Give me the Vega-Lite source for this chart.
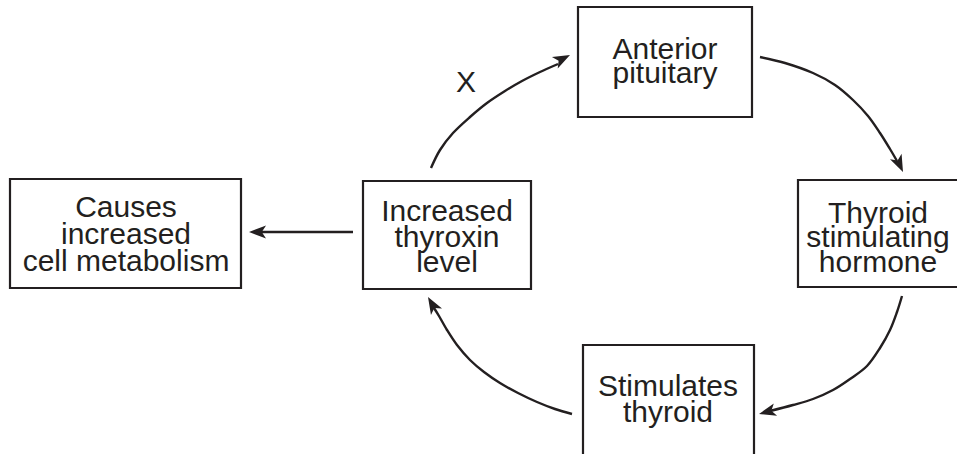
{
  "$schema": "https://vega.github.io/schema/vega-lite/v6.json",
  "width": 957,
  "height": 454,
  "autosize": {"type": "fit", "contains": "padding"},
  "padding": 0,
  "background": "white",
  "config": {"view": {"stroke": null}},
  "datasets": {
    "boxes": [
      {"name": "Causes increased cell metabolism", "x0": 10, "x1": 241, "y0": 179, "y1": 288},
      {"name": "Increased thyroxin level", "x0": 363, "x1": 531, "y0": 181, "y1": 289},
      {"name": "Anterior pituitary", "x0": 578, "x1": 752, "y0": 7, "y1": 117},
      {"name": "Thyroid stimulating hormone", "x0": 798, "x1": 965, "y0": 180, "y1": 287},
      {"name": "Stimulates thyroid", "x0": 583, "x1": 754, "y0": 345, "y1": 465}
    ],
    "labels": [
      {"text": "Causes", "x": 126, "y": 217},
      {"text": "increased", "x": 126, "y": 244},
      {"text": "cell metabolism", "x": 126, "y": 271},
      {"text": "Increased", "x": 447, "y": 221},
      {"text": "thyroxin", "x": 447, "y": 247},
      {"text": "level", "x": 447, "y": 272},
      {"text": "Anterior", "x": 665, "y": 59},
      {"text": "pituitary", "x": 665, "y": 83},
      {"text": "Thyroid", "x": 878, "y": 223},
      {"text": "stimulating", "x": 878, "y": 247},
      {"text": "hormone", "x": 878, "y": 272},
      {"text": "Stimulates", "x": 668, "y": 396},
      {"text": "thyroid", "x": 668, "y": 422},
      {"text": "X", "x": 466, "y": 92}
    ],
    "curves": [
      {"id": "a0", "i": 0, "x": 353, "y": 232},
      {"id": "a0", "i": 1, "x": 260, "y": 232},
      {"id": "a1", "i": 0, "x": 431, "y": 168},
      {"id": "a1", "i": 1, "x": 440, "y": 150},
      {"id": "a1", "i": 2, "x": 453, "y": 133},
      {"id": "a1", "i": 3, "x": 470, "y": 117},
      {"id": "a1", "i": 4, "x": 487, "y": 103},
      {"id": "a1", "i": 5, "x": 505, "y": 91},
      {"id": "a1", "i": 6, "x": 522, "y": 81},
      {"id": "a1", "i": 7, "x": 540, "y": 72},
      {"id": "a1", "i": 8, "x": 558, "y": 64},
      {"id": "a2", "i": 0, "x": 760, "y": 57},
      {"id": "a2", "i": 1, "x": 785, "y": 63},
      {"id": "a2", "i": 2, "x": 813, "y": 73},
      {"id": "a2", "i": 3, "x": 835, "y": 85},
      {"id": "a2", "i": 4, "x": 853, "y": 100},
      {"id": "a2", "i": 5, "x": 868, "y": 116},
      {"id": "a2", "i": 6, "x": 880, "y": 133},
      {"id": "a2", "i": 7, "x": 890, "y": 149},
      {"id": "a2", "i": 8, "x": 897, "y": 161},
      {"id": "a3", "i": 0, "x": 902, "y": 296},
      {"id": "a3", "i": 1, "x": 897, "y": 312},
      {"id": "a3", "i": 2, "x": 890, "y": 330},
      {"id": "a3", "i": 3, "x": 880, "y": 348},
      {"id": "a3", "i": 4, "x": 867, "y": 366},
      {"id": "a3", "i": 5, "x": 850, "y": 379},
      {"id": "a3", "i": 6, "x": 833, "y": 390},
      {"id": "a3", "i": 7, "x": 813, "y": 399},
      {"id": "a3", "i": 8, "x": 793, "y": 405},
      {"id": "a3", "i": 9, "x": 770, "y": 411},
      {"id": "a4", "i": 0, "x": 572, "y": 414},
      {"id": "a4", "i": 1, "x": 555, "y": 409},
      {"id": "a4", "i": 2, "x": 537, "y": 402},
      {"id": "a4", "i": 3, "x": 518, "y": 393},
      {"id": "a4", "i": 4, "x": 500, "y": 383},
      {"id": "a4", "i": 5, "x": 484, "y": 372},
      {"id": "a4", "i": 6, "x": 470, "y": 360},
      {"id": "a4", "i": 7, "x": 457, "y": 345},
      {"id": "a4", "i": 8, "x": 447, "y": 330},
      {"id": "a4", "i": 9, "x": 439, "y": 316},
      {"id": "a4", "i": 10, "x": 434, "y": 308}
    ],
    "heads": [
      {"id": "a0", "x": 249, "y": 232, "angle": 270},
      {"id": "a1", "x": 570, "y": 55, "angle": 63},
      {"id": "a2", "x": 903, "y": 172, "angle": 155},
      {"id": "a3", "x": 759, "y": 414, "angle": 255},
      {"id": "a4", "x": 428, "y": 297, "angle": 330}
    ]
  },
  "layer": [
    {
      "data": {"name": "boxes"},
      "mark": {"type": "rect", "fill": "transparent", "stroke": "#231f20", "strokeWidth": 2.2, "clip": true},
      "encoding": {
        "x": {"field": "x0", "type": "quantitative", "scale": {"domain": [0, 957], "nice": false, "zero": false}, "axis": null},
        "x2": {"field": "x1"},
        "y": {"field": "y0", "type": "quantitative", "scale": {"domain": [0, 454], "nice": false, "zero": false, "reverse": true}, "axis": null},
        "y2": {"field": "y1"}
      }
    },
    {
      "data": {"name": "curves"},
      "mark": {"type": "line", "interpolate": "cardinal", "stroke": "#231f20", "strokeWidth": 2.4},
      "encoding": {
        "x": {"field": "x", "type": "quantitative"},
        "y": {"field": "y", "type": "quantitative"},
        "detail": {"field": "id"},
        "order": {"field": "i"}
      }
    },
    {
      "data": {"name": "heads"},
      "mark": {"type": "point", "shape": "M0,0 L0.75,2 L0,1.5 L-0.75,2 Z", "filled": true, "fill": "#231f20", "strokeWidth": 0, "opacity": 1, "size": 290},
      "encoding": {
        "x": {"field": "x", "type": "quantitative"},
        "y": {"field": "y", "type": "quantitative"},
        "angle": {"field": "angle", "type": "quantitative", "scale": null}
      }
    },
    {
      "data": {"name": "labels"},
      "mark": {"type": "text", "font": "Liberation Sans", "fontSize": 30, "align": "center", "baseline": "alphabetic", "color": "#231f20"},
      "encoding": {
        "x": {"field": "x", "type": "quantitative"},
        "y": {"field": "y", "type": "quantitative"},
        "text": {"field": "text"}
      }
    }
  ]
}
